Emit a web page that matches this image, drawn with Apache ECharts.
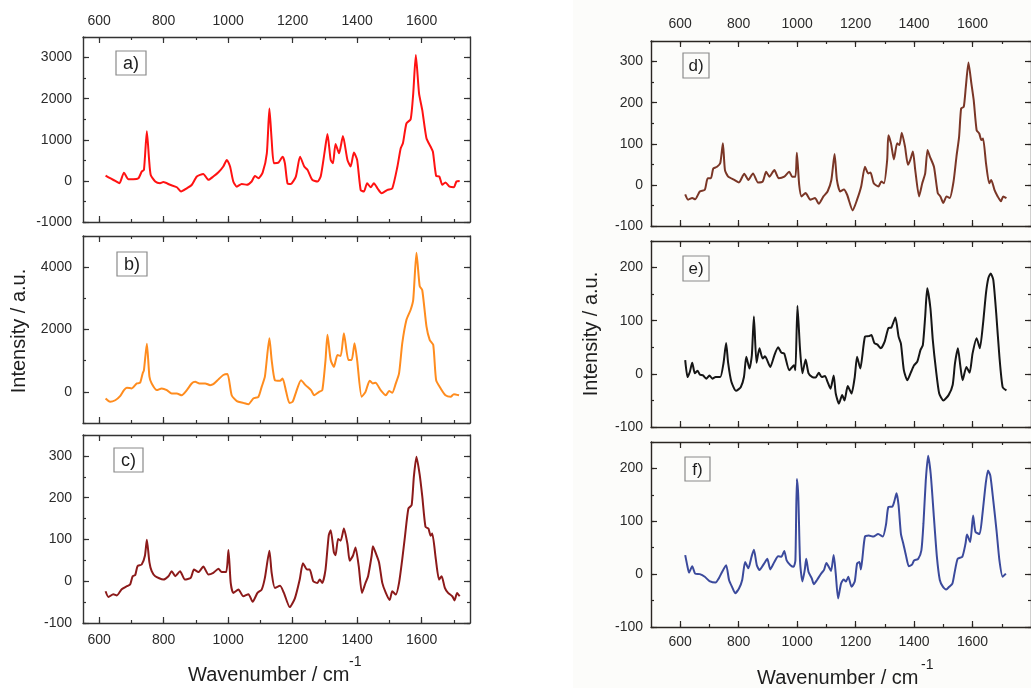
<!DOCTYPE html>
<html><head><meta charset="utf-8">
<script src="https://cdn.jsdelivr.net/npm/echarts@6/dist/echarts.min.js"></script>
<style>html,body{margin:0;padding:0;background:#fff}#c{width:1031px;height:688px}</style>
</head><body><div id="c"></div><script>
// ---- data ----
const waveA = [620,634,650,663,677,691,706,722,732,739,748,755,760,774,789,799,820,841,854,872,887,903,923,939,954,970,985,996,1006,1016,1027,1042,1058,1073,1083,1094,1107,1120,1128,1135,1142,1156,1169,1176,1184,1194,1210,1223,1236,1246,1261,1277,1287,1300,1308,1318,1325,1333,1344,1356,1370,1380,1390,1400,1411,1421,1431,1442,1452,1463,1476,1494,1509,1525,1535,1542,1553,1566,1574,1582,1592,1602,1615,1628,1635,1645,1655,1664,1674,1687,1700,1708,1718];
const intA = [130,65,0,-57,200,40,40,65,225,270,1210,510,145,-15,-55,-30,-95,-155,-260,-180,-100,105,170,25,105,210,350,510,350,-15,-140,-75,-95,-15,120,65,200,670,1760,995,430,445,590,430,-55,-75,105,590,350,270,25,-15,105,750,1140,510,430,900,670,1090,510,350,690,510,-220,-260,-57,-155,-57,-180,-300,-220,-180,350,790,915,1400,1500,2130,3060,2130,1720,1035,830,710,120,105,-95,-40,-140,-155,-15,0];

const waveB = [620,634,650,665,677,686,701,717,727,735,739,748,756,763,779,794,810,825,841,856,872,887,898,911,929,944,954,970,985,998,1011,1027,1047,1063,1078,1094,1104,1114,1128,1135,1145,1161,1169,1180,1190,1200,1210,1226,1240,1257,1267,1282,1292,1302,1308,1318,1328,1339,1349,1359,1373,1383,1392,1400,1414,1426,1439,1449,1457,1473,1489,1499,1509,1520,1530,1540,1553,1566,1574,1584,1594,1602,1615,1625,1636,1645,1659,1674,1690,1700,1716];
const intB = [-215,-320,-270,-140,55,130,110,270,290,590,700,1540,485,270,55,110,55,-55,-55,-110,55,270,320,270,270,215,245,400,540,570,-110,-300,-355,-400,-215,-160,160,485,1720,1020,375,355,430,0,-355,-320,-30,375,215,55,-110,0,55,1020,1830,1020,800,1180,1150,1880,1020,1020,1560,1020,-160,0,355,270,290,55,-110,30,-30,270,590,1560,2310,2635,2960,4460,3390,3260,2100,1670,1505,375,110,-110,-160,-75,-110];

const waveC = [620,629,644,655,670,686,696,704,712,719,732,742,748,756,763,774,799,815,825,836,851,866,884,894,908,923,939,954,970,980,994,1001,1008,1016,1032,1047,1063,1076,1091,1104,1114,1128,1135,1145,1161,1173,1191,1207,1222,1232,1245,1253,1264,1277,1284,1292,1302,1312,1318,1328,1333,1341,1349,1359,1370,1377,1387,1395,1405,1415,1426,1434,1445,1449,1457,1468,1478,1489,1501,1509,1520,1530,1540,1548,1559,1569,1576,1584,1594,1602,1612,1621,1628,1633,1644,1654,1662,1672,1682,1695,1702,1710,1718];
const intC = [-24,-38,-31,-34,-19,-12,-8,12,15,36,40,61,99,45,24,12,4,12,24,12,24,4,8,28,22,35,16,20,30,22,22,75,-4,-28,-20,-36,-31,-49,-28,-20,8,73,20,-16,-11,-28,-62,-41,4,43,28,28,0,-4,4,-4,28,110,122,69,62,101,97,126,89,49,61,81,36,-28,-4,12,61,84,69,45,-4,-28,-45,-24,-32,-4,53,105,174,182,251,298,255,203,130,126,109,114,53,4,12,-16,-28,-36,-46,-28,-36];

const waveD = [617,627,641,651,667,684,694,705,713,726,737,746,753,764,785,801,819,833,849,866,882,894,905,922,937,956,973,983,994,999,1007,1015,1029,1045,1061,1074,1090,1104,1117,1128,1136,1147,1160,1171,1190,1205,1219,1232,1243,1251,1262,1278,1288,1297,1308,1312,1321,1331,1342,1350,1358,1369,1379,1387,1396,1404,1417,1428,1438,1446,1454,1468,1481,1490,1500,1511,1522,1535,1545,1554,1561,1570,1577,1586,1596,1604,1614,1623,1630,1636,1646,1657,1664,1675,1686,1697,1705,1716];
const intD = [-23,-36,-32,-35,-16,-12,16,16,40,44,53,101,36,20,12,6,27,12,28,6,8,32,20,36,16,20,32,20,20,78,0,-28,-20,-36,-32,-46,-28,-16,12,75,12,-16,-11,-24,-62,-36,-4,44,28,30,4,-4,8,4,61,121,101,62,101,97,127,93,49,61,81,36,-28,4,28,85,69,44,-20,-28,-44,-28,-32,8,69,117,186,190,238,298,247,206,133,125,109,113,53,4,12,-12,-28,-40,-28,-32];

const waveE = [617,625,633,641,650,659,667,678,689,700,710,721,737,748,757,764,775,791,807,818,826,837,845,852,861,871,882,890,908,922,935,946,956,973,989,994,1001,1010,1018,1029,1039,1052,1063,1074,1084,1095,1104,1114,1125,1132,1143,1154,1162,1173,1186,1197,1205,1216,1232,1245,1254,1264,1275,1286,1299,1312,1322,1336,1347,1355,1365,1377,1390,1400,1411,1422,1430,1438,1445,1456,1464,1475,1486,1500,1518,1532,1540,1550,1558,1566,1579,1590,1600,1614,1625,1636,1646,1654,1662,1671,1681,1692,1703,1716];
const intE = [26,-6,4,21,1,6,-1,-3,-9,-3,-9,-6,-6,20,58,20,-15,-32,-25,-6,32,10,35,108,21,48,29,33,13,35,50,40,38,7,16,7,128,45,1,27,1,-6,-7,2,-6,-4,-15,-28,-3,-37,-56,-40,-50,-23,-37,-6,32,10,70,71,73,58,55,48,60,86,87,106,70,57,7,-12,4,16,23,45,54,108,161,123,64,7,-37,-50,-40,-21,20,48,16,-12,13,2,38,67,48,95,152,180,189,177,114,32,-25,-31];

const waveF = [617,625,630,641,651,667,684,700,721,732,743,757,767,778,788,801,812,822,833,844,852,862,871,887,898,908,922,935,946,956,964,977,988,994,999,1004,1010,1018,1026,1031,1039,1050,1057,1068,1082,1092,1100,1108,1116,1125,1132,1140,1150,1159,1167,1175,1186,1197,1205,1213,1218,1223,1232,1245,1261,1277,1293,1304,1312,1326,1333,1340,1347,1355,1363,1372,1382,1393,1400,1414,1425,1432,1440,1448,1457,1467,1478,1488,1499,1510,1520,1531,1538,1549,1565,1576,1581,1592,1602,1610,1624,1634,1645,1653,1661,1671,1682,1692,1703,1714];
const intF = [36,14,3,15,1,0,-5,-13,-16,-8,4,17,-11,-25,-36,-27,-11,23,11,33,46,17,8,20,29,9,23,34,33,44,26,17,14,26,180,145,23,-14,8,29,4,-8,-19,-11,1,8,21,14,6,36,1,-46,-18,-10,-14,-5,-24,-14,20,23,9,29,71,73,71,76,71,94,127,128,139,153,130,76,58,36,15,18,26,29,45,95,177,224,189,114,33,-11,-24,-29,-24,-18,1,29,33,58,75,61,111,80,76,114,171,196,186,139,83,26,-5,1];

// ---- tick labels / tick positions ----
const xMajorTicks = [600,800,1000,1200,1400,1600];
const xMinorTicks = [600,700,800,900,1000,1100,1200,1300,1400,1500,1600,1700];
const yMajorA = [-1000,0,1000,2000,3000];
const yMinorA = [-1000,-500,0,500,1000,1500,2000,2500,3000,3500];
const yMajorB = [0,2000,4000];
const yMinorB = [-1000,0,1000,2000,3000,4000,5000];
const yMajorC = [-100,0,100,200,300];
const yMinorC = [-100,-50,0,50,100,150,200,250,300,350];
const yMajorE = [-100,0,100,200];
const yMinorE = [-100,-50,0,50,100,150,200,250];
const panelLabels = ['a)','b)','c)','d)','e)','f)'];
const xTitle = 'Wavenumber / cm';
const xTitleSup = '-1';
const yTitle = 'Intensity / a.u.';

// ---- layout / style ----
const L = {left:83, width:387, xr:[550,1750], axis:'#333333', yMargin:11};
const R = {left:651, width:405, xr:[500,1800], axis:'#2a2622', yMargin:8};
const panels = [
  {wave:waveA, val:intA, color:'#ff1212', col:L, top:37,  height:185, yr:[-1000,3500], yMaj:yMajorA, yMin:yMinorA, topLab:true,  botLab:false, box:[116,51,30,24,18]},
  {wave:waveB, val:intB, color:'#ff8c1e', col:L, top:236, height:187, yr:[-1000,5000], yMaj:yMajorB, yMin:yMinorB, topLab:false, botLab:false, box:[117,252,30,24,18]},
  {wave:waveC, val:intC, color:'#8c1a1a', col:L, top:435, height:188, yr:[-100,350],   yMaj:yMajorC, yMin:yMinorC, topLab:false, botLab:true,  box:[114,448,29,24,18]},
  {wave:waveD, val:intD, color:'#7a3626', col:R, top:41,  height:185, yr:[-100,350],   yMaj:yMajorC, yMin:yMinorC, topLab:true,  botLab:false, box:[683,53,26,25,17]},
  {wave:waveE, val:intE, color:'#161616', col:R, top:241, height:186, yr:[-100,250],   yMaj:yMajorE, yMin:yMinorE, topLab:false, botLab:false, box:[683,256,26,25,17]},
  {wave:waveF, val:intF, color:'#3b4a9c', col:R, top:442, height:185, yr:[-100,250],   yMaj:yMajorE, yMin:yMinorE, topLab:false, botLab:true,  box:[685,457,25,24,17]}
];
const FONT = 'Liberation Sans';

const grids=[], xAxes=[], yAxes=[], series=[], graphics=[];
graphics.push({type:'rect', z:-100, silent:true, shape:{x:573,y:0,width:458,height:688}, style:{fill:'#fcfcfa'}});

panels.forEach((p,i)=>{
  const c = p.col;
  grids.push({left:c.left, top:p.top, width:c.width, height:p.height, containLabel:false});
  const line = {show:true, onZero:false, lineStyle:{color:c.axis, width:1.4}};
  const tickStyle = {color:c.axis, width:1.2};
  const labStyle = (show, vals, margin)=>({show, customValues:vals, fontSize:14, color:'#2b2b2b', fontFamily:FONT, margin, hideOverlap:false, formatter:(v)=>String(v)});
  const mkX = (pos, major, showLab, margin) => ({
    type:'value', gridIndex:i, position:pos, min:c.xr[0], max:c.xr[1],
    axisLine: major ? line : {show:false, onZero:false},
    axisTick:{show:true, inside:true, length: major?6:3, customValues: major?xMajorTicks:xMinorTicks, lineStyle:tickStyle},
    axisLabel: major ? labStyle(showLab, xMajorTicks, margin) : {show:false},
    splitLine:{show:false}, minorTick:{show:false}
  });
  const mkY = (pos, major, showLab) => ({
    type:'value', gridIndex:i, position:pos, min:p.yr[0], max:p.yr[1],
    axisLine: major ? line : {show:false, onZero:false},
    axisTick:{show:true, inside:true, length: major?6:3, customValues: major?p.yMaj:p.yMin, lineStyle:tickStyle},
    axisLabel: major ? labStyle(showLab, p.yMaj, c.yMargin) : {show:false},
    splitLine:{show:false}, minorTick:{show:false}
  });
  const xi = xAxes.length, yi = yAxes.length;
  xAxes.push(mkX('bottom',true,p.botLab, c===L?10:8), mkX('bottom',false), mkX('top',true,p.topLab, c===L?9:10), mkX('top',false));
  yAxes.push(mkY('left',true,true), mkY('left',false), mkY('right',true,false), mkY('right',false));
  series.push({type:'line', xAxisIndex:xi, yAxisIndex:yi, data:p.wave.map((w,k)=>[w,p.val[k]]),
    showSymbol:false, smooth:0.2, clip:true, silent:true, animation:false,
    lineStyle:{color:p.color, width:2}, itemStyle:{color:p.color}});
  const b = p.box;
  graphics.push({type:'rect', z:10, silent:true, shape:{x:b[0],y:b[1],width:b[2],height:b[3]},
    style:{fill: c===L ? '#ffffff' : '#fcfcfa', stroke:'#8a8a8a', lineWidth:1.2}});
  graphics.push({type:'text', z:11, silent:true, x:b[0]+b[2]/2, y:b[1]+b[3]/2+1,
    style:{text:panelLabels[i], fill:'#1e1e1e', font: b[4]+'px "'+FONT+'"', align:'center', verticalAlign:'middle'}});
});

// axis titles
[[188,675,349,662],[757,678,921,665]].forEach(t=>{
  graphics.push({type:'text', silent:true, x:t[0], y:t[1], style:{text:xTitle, fill:'#1e1e1e', font:'20px "'+FONT+'"', align:'left', verticalAlign:'middle'}});
  graphics.push({type:'text', silent:true, x:t[2], y:t[3], style:{text:xTitleSup, fill:'#1e1e1e', font:'14px "'+FONT+'"', align:'left', verticalAlign:'middle'}});
});
[[19,331],[591,334]].forEach(t=>{
  graphics.push({type:'text', silent:true, x:t[0], y:t[1], rotation:Math.PI/2, style:{text:yTitle, fill:'#1e1e1e', font:'20px "'+FONT+'"', align:'center', verticalAlign:'middle'}});
});

const chart = echarts.init(document.getElementById('c'), null, {renderer:'canvas'});
chart.setOption({
  animation:false, backgroundColor:'#ffffff',
  grid:grids, xAxis:xAxes, yAxis:yAxes, series, graphic:graphics
});
</script></body></html>
